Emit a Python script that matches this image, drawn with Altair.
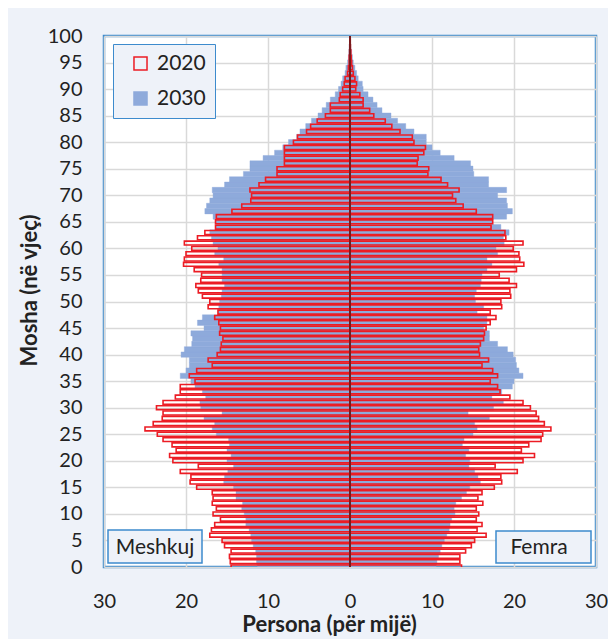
import altair as alt
import pandas as pd

ages = list(range(0, 101))

male_2020 = [14.5, 14.6, 14.7, 14.5, 15.3, 15.6, 17.1, 16.9, 16.5, 15.8,
             16.7, 16.3, 16.8, 16.7, 16.8, 18.7, 19.5, 19.4, 20.7, 18.5,
             21.6, 22.0, 21.2, 21.7, 22.8, 23.5, 25.0, 24.0, 22.9, 22.8,
             23.6, 22.8, 21.3, 20.7, 20.7, 18.9, 19.6, 18.7, 16.8, 17.3,
             16.2, 15.8, 15.7, 15.5, 15.9, 15.8, 16.0, 16.5, 16.1, 17.3,
             17.1, 18.0, 18.5, 18.8, 18.2, 18.1, 19.0, 20.3, 20.2, 20.0,
             19.3, 20.2, 18.6, 17.7, 16.4, 16.4, 16.3, 14.4, 13.2, 12.1,
             12.0, 12.2, 11.1, 10.3, 8.9, 8.9, 8.0, 8.0, 8.0, 8.0,
             6.9, 6.4, 5.3, 4.8, 4.0, 3.0, 2.4, 2.4, 1.3, 1.2,
             0.9, 0.7, 0.6, 0.3, 0.2, 0.1, 0.1, 0.05, 0.03, 0.02, 0.01]

male_2030 = [11.3, 11.4, 11.4, 11.5, 11.8, 12.0, 12.1, 12.3, 12.7, 12.7,
             12.9, 13.2, 13.1, 13.9, 13.9, 14.2, 15.4, 15.3, 14.9, 14.2,
             15.0, 14.5, 15.0, 14.7, 14.8, 16.3, 16.8, 16.5, 17.8, 15.6,
             18.2, 18.3, 17.6, 18.0, 18.9, 19.4, 20.7, 20.0, 19.6, 19.6,
             20.6, 20.2, 19.3, 19.2, 19.4, 17.8, 18.6, 18.0, 16.1, 16.0,
             15.9, 15.7, 15.6, 15.3, 15.6, 15.6, 15.6, 16.0, 15.4, 16.5,
             16.1, 16.7, 16.9, 17.1, 16.4, 16.4, 16.7, 17.7, 17.5, 17.1,
             16.7, 16.8, 15.3, 14.7, 13.0, 12.2, 12.2, 10.6, 9.2, 8.2,
             7.5, 6.5, 6.1, 5.4, 4.7, 3.9, 3.4, 2.9, 2.4, 1.8,
             1.4, 1.1, 0.9, 0.6, 0.5, 0.3, 0.2, 0.15, 0.1, 0.05, 0.03]

female_2020 = [13.6, 13.4, 13.4, 14.1, 14.8, 15.2, 16.6, 15.5, 16.1, 15.4,
               15.7, 15.4, 16.2, 15.6, 16.1, 17.6, 18.5, 18.4, 20.4, 17.7,
               21.1, 22.5, 20.9, 21.8, 23.3, 23.5, 24.5, 23.7, 23.0, 22.7,
               22.0, 21.1, 19.5, 18.3, 18.0, 17.1, 18.0, 17.4, 16.1, 16.9,
               15.8, 15.7, 15.9, 16.3, 16.4, 16.6, 17.1, 17.8, 17.1, 18.5,
               18.4, 19.6, 19.5, 20.3, 19.4, 18.2, 20.3, 21.2, 20.7, 20.6,
               19.9, 21.1, 19.0, 18.9, 17.2, 17.4, 17.4, 15.4, 13.8, 12.9,
               12.5, 13.3, 11.9, 11.1, 9.5, 9.6, 8.2, 8.3, 9.0, 9.2,
               7.8, 7.6, 6.1, 5.1, 4.3, 2.9, 2.4, 1.6, 1.6, 1.2,
               0.7, 0.8, 0.6, 0.4, 0.3, 0.2, 0.15, 0.1, 0.05, 0.03, 0.02]

female_2030 = [10.5, 10.6, 10.8, 11.0, 11.2, 11.5, 11.8, 12.1, 12.2, 12.4,
               12.8, 12.7, 12.9, 13.6, 14.2, 14.6, 15.9, 15.6, 15.2, 14.5,
               14.6, 14.1, 14.5, 13.7, 13.9, 15.0, 15.5, 15.2, 17.0, 14.4,
               17.5, 18.7, 17.3, 18.5, 19.8, 20.0, 21.1, 20.6, 20.3, 20.2,
               19.9, 19.2, 18.0, 17.0, 17.0, 16.3, 16.7, 16.7, 15.5, 16.3,
               15.3, 15.2, 15.4, 15.9, 16.0, 16.1, 16.7, 17.3, 16.7, 18.0,
               17.8, 18.8, 18.7, 19.4, 18.4, 17.4, 19.1, 19.8, 19.2, 19.1,
               18.0, 19.1, 16.9, 16.9, 15.1, 15.0, 14.7, 12.7, 11.0, 10.0,
               9.3, 9.3, 7.8, 6.8, 5.8, 5.0, 3.9, 3.3, 2.8, 2.2,
               1.6, 1.5, 1.0, 0.8, 0.6, 0.4, 0.3, 0.2, 0.1, 0.05, 0.03]

years = ["2020", "2030"]
x_ticks = [-30, -20, -10, 0, 10, 20, 30]
y_ticks = [0, 5, 10, 15, 20, 25, 30, 35, 40, 45, 50,
           55, 60, 65, 70, 75, 80, 85, 90, 95, 100]

FONT = "Lato"
BLUE = "#8eaadb"
RED = "#ec1c24"
FRAME = "#3d8bcd"
BG = "#eef2f9"
W, H = 492, 531


def frame(year, male, female):
    rows = []
    for a, m, f in zip(ages, male, female):
        rows.append({"age": a, "val": -m, "year": year})
        rows.append({"age": a, "val": f, "year": year})
    return pd.DataFrame(rows)


d2030 = frame("2030", male_2030, female_2030)
d2030["y0"] = d2030["age"] - 0.5
d2030["y1"] = d2030["age"] + 0.5
d2030["zero"] = 0.0
d2020 = frame("2020", male_2020, female_2020)
d2020["y0"] = d2020["age"] - 0.37
d2020["y1"] = d2020["age"] + 0.37
d2020["zero"] = 0.0

x_axis = alt.Axis(values=x_ticks, labelExpr="abs(datum.value)",
                  labelFlush=False, labelOverlap=False,
                  title="Persona (për mijë)", titleX=225,
                  titleY=64, titleBaseline="alphabetic",
                  labelPadding=24)
y_axis = alt.Axis(values=y_ticks, tickCount=21, title="Mosha (në vjeç)",
                  labelFlush=False, labelOverlap=False,
                  titleY=254, labelPadding=22, titlePadding=6)
x_scale = alt.Scale(domain=[-30, 30], nice=False)
y_scale = alt.Scale(domain=[0, 100], nice=False)

fill_scale = alt.Scale(domain=years, range=["transparent", BLUE])
stroke_scale = alt.Scale(domain=years, range=[RED, BLUE])

blue = alt.Chart(d2030).mark_rect(clip=True, strokeWidth=0.4).encode(
    x=alt.X("val:Q", scale=x_scale, axis=x_axis), x2="zero:Q",
    y=alt.Y("y0:Q", scale=y_scale, axis=y_axis), y2="y1:Q",
    fill=alt.Fill("year:N", scale=fill_scale, title=None),
    stroke=alt.Stroke("year:N", scale=stroke_scale, title=None),
)

red = alt.Chart(d2020).mark_rect(clip=True, strokeWidth=1.6).encode(
    x=alt.X("val:Q", scale=x_scale, axis=x_axis), x2="zero:Q",
    y=alt.Y("y0:Q", scale=y_scale, axis=y_axis), y2="y1:Q",
    fill=alt.Fill("year:N", scale=fill_scale, title=None),
    stroke=alt.Stroke("year:N", scale=stroke_scale, title=None),
)

one = pd.DataFrame({"k": [0]})

center = alt.Chart(one).mark_rule(color="#7a1a1c", strokeWidth=2).encode(
    x=alt.datum(0), y=alt.value(0), y2=alt.value(H)
)

box_m = alt.Chart(one).mark_rect(fill=BG, stroke=FRAME, strokeWidth=1.5).encode(
    x=alt.value(4), x2=alt.value(98), y=alt.value(494), y2=alt.value(527)
)
txt_m = alt.Chart(one).mark_text(text="Meshkuj", font=FONT, fontSize=21,
                                 color="#222222", align="center",
                                 baseline="middle").encode(
    x=alt.value(51), y=alt.value(512)
)
box_f = alt.Chart(one).mark_rect(fill=BG, stroke=FRAME, strokeWidth=1.5).encode(
    x=alt.value(392), x2=alt.value(487), y=alt.value(495), y2=alt.value(527)
)
txt_f = alt.Chart(one).mark_text(text="Femra", font=FONT, fontSize=21,
                                 color="#222222", align="center",
                                 baseline="middle").encode(
    x=alt.value(435), y=alt.value(512)
)

chart = alt.layer(blue, red, center, box_m, txt_m, box_f, txt_f).properties(
    width=W, height=H,
    padding={"left": 96, "top": 28, "right": 12, "bottom": 72},
    autosize=alt.AutoSizeParams(type="none"),
    background=BG,
).configure_view(
    fill="white", stroke=FRAME, strokeWidth=2.5
).configure_axis(
    labelFont=FONT, labelFontSize=20, labelColor="#222222",
    titleFont=FONT, titleFontSize=22, titleFontWeight="bold", titleColor="#222222",
    grid=True, gridColor="#d9d9d9", gridWidth=1.5,
    domain=False, ticks=False,
).configure_legend(
    orient="none", legendX=9, legendY=8,
    fillColor=BG, strokeColor=FRAME, padding=9,
    symbolType="square", symbolSize=170, symbolStrokeWidth=1.5,
    labelFont=FONT, labelFontSize=21, labelColor="#222222",
    rowPadding=13, symbolOffset=8, labelOffset=6,
)

chart.save("out.html", embed_options={"renderer": "svg", "actions": False})
